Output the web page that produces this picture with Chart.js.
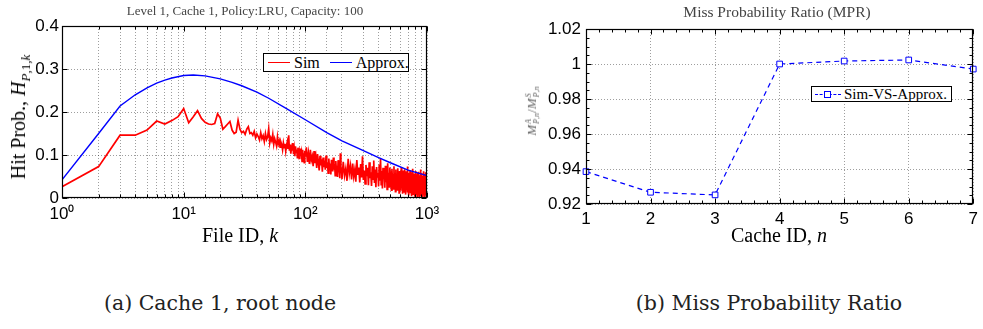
<!DOCTYPE html>
<html>
<head>
<meta charset="utf-8">
<script src="https://cdn.jsdelivr.net/npm/chart.js@4.4.1/dist/chart.umd.min.js"></script>
<style>
    html, body { margin: 0; padding: 0; background: #fff; }
    body { width: 983px; height: 329px; position: relative; overflow: hidden; font-family: 'Liberation Serif', 'DejaVu Serif', serif; color: #000; }
    canvas { position: absolute; top: 0; }
    #hitChart { left: 0; }
    #mprChart { left: 490px; }
    .txt { position: absolute; white-space: nowrap; line-height: 1; transform: translate(-50%, -50%); }
    .rot { transform: translate(-50%, -50%) rotate(-90deg); }
    .title { font-size: 13px; color: #444; }
    .axis-label { font-size: 20px; }
    .caption { font-family: 'DejaVu Serif', serif; font-size: 20.5px; color: #222; }
    .legend { position: absolute; border: 1px solid #000; background: #fff; display: flex; align-items: center; box-sizing: border-box; font-size: 16px; }
    .legend-item { display: flex; align-items: center; }
    .legend-line { display: inline-block; width: 22px; border-top: 1.4px solid; margin: 0 4px 0 4px; }
    .legend-dash { position: relative; display: inline-block; width: 26px; border-top: 1.2px dashed #0000ff; margin: 0 3px 0 3px; }
    .legend-mark { position: absolute; left: 9px; top: -4px; width: 5px; height: 5px; border: 1px solid #0000ff; background: #fff; }
    .ss { display: inline-flex; flex-direction: column; vertical-align: middle; font-size: 0.62em; line-height: 1; margin-left: 1px; }
    sub { font-size: 0.65em; }
</style>
</head>
<body>
<canvas id="hitChart" width="490" height="260"></canvas>
<canvas id="mprChart" width="493" height="260"></canvas>

<div class="txt title" style="left:245px; top:10px">Level 1, Cache 1, Policy:LRU, Capacity: 100</div>
<div class="txt rot axis-label" style="left:20px; top:117px">Hit Prob., <i>H</i><sub><i>P</i>,1,<i>k</i></sub></div>
<div class="txt axis-label" style="left:240px; top:235px">File ID, <i>k</i></div>
<div class="legend" id="hitLegend" style="left:263px; top:53px; width:146px; height:19px"></div>

<div class="txt title" style="left:777px; top:12px; font-size:15.5px">Miss Probability Ratio (MPR)</div>
<div class="txt rot" style="left:533px; top:111px; font-size:13px; color:#666"><i>M</i><span class="ss"><i>A</i><span><i>P</i>,<i>n</i></span></span>/<i>M</i><span class="ss"><i>S</i><span><i>P</i>,<i>n</i></span></span></div>
<div class="txt axis-label" style="left:779px; top:235px">Cache ID, <i>n</i></div>
<div class="legend" id="mprLegend" style="left:811px; top:86px; width:141px; height:16px; font-size:15px"></div>

<div class="txt caption" style="left:220px; top:303px">(a) Cache 1, root node</div>
<div class="txt caption" style="left:769px; top:303px">(b) Miss Probability Ratio</div>

<script>
// ---- (a) hit probability per file, Sim ----
// file IDs 1..100 step 1, 102..200 step 2, 205..1000 step 5
const simIdRanges = [[1, 100, 1], [102, 200, 2], [205, 1000, 5]];
const simHitA = [
    0.026, 0.073, 0.146, 0.146, 0.158, 0.179, 0.172, 0.180, 0.189, 0.208,
    0.175, 0.189, 0.203, 0.185, 0.176, 0.172, 0.171, 0.173, 0.196, 0.186,
    0.160, 0.166, 0.172, 0.178, 0.158, 0.150, 0.153, 0.181, 0.160, 0.152,
    0.155, 0.148, 0.160, 0.166, 0.150, 0.152, 0.146, 0.155, 0.140, 0.149,
    0.143, 0.135, 0.152, 0.138, 0.145, 0.131, 0.150, 0.136, 0.142, 0.161,
    0.128, 0.140, 0.133, 0.148, 0.125, 0.138, 0.130, 0.121, 0.142, 0.126,
    0.133, 0.118, 0.130, 0.124, 0.112, 0.128, 0.117, 0.126, 0.109, 0.122,
    0.130, 0.114, 0.146, 0.110, 0.124, 0.103, 0.118, 0.112, 0.128, 0.102,
    0.115, 0.097, 0.120, 0.106, 0.113, 0.094, 0.117, 0.101, 0.108, 0.090,
    0.115, 0.098, 0.106, 0.085, 0.112, 0.093, 0.104, 0.082, 0.110, 0.096
];
const simHitB = [
    0.118, 0.084, 0.104, 0.079, 0.112, 0.088, 0.097, 0.074, 0.109, 0.081,
    0.095, 0.070, 0.102, 0.083, 0.064, 0.098, 0.076, 0.090, 0.061, 0.094,
    0.072, 0.087, 0.066, 0.099, 0.070, 0.083, 0.058, 0.092, 0.067, 0.080,
    0.055, 0.089, 0.071, 0.062, 0.094, 0.066, 0.079, 0.052, 0.086, 0.063,
    0.075, 0.049, 0.088, 0.060, 0.072, 0.046, 0.104, 0.058, 0.070, 0.044
];
const simHitC = [
    0.084, 0.052, 0.069, 0.040, 0.091, 0.057, 0.075, 0.043, 0.080, 0.050,
    0.066, 0.038, 0.088, 0.054, 0.071, 0.036, 0.079, 0.048, 0.097, 0.042,
    0.064, 0.033, 0.077, 0.051, 0.070, 0.030, 0.083, 0.046, 0.060, 0.028,
    0.074, 0.044, 0.087, 0.035, 0.066, 0.025, 0.072, 0.049, 0.058, 0.027,
    0.078, 0.040, 0.092, 0.031, 0.063, 0.022, 0.070, 0.045, 0.056, 0.024,
    0.075, 0.037, 0.066, 0.020, 0.081, 0.042, 0.059, 0.026, 0.071, 0.033,
    0.062, 0.018, 0.068, 0.039, 0.055, 0.021, 0.074, 0.030, 0.058, 0.015,
    0.066, 0.035, 0.052, 0.019, 0.069, 0.028, 0.060, 0.012, 0.063, 0.032,
    0.050, 0.017, 0.071, 0.026, 0.057, 0.010, 0.064, 0.036, 0.048, 0.014,
    0.067, 0.024, 0.055, 0.008, 0.062, 0.030, 0.049, 0.013, 0.073, 0.021,
    0.058, 0.006, 0.052, 0.027, 0.064, 0.011, 0.047, 0.019, 0.060, 0.004,
    0.054, 0.025, 0.068, 0.009, 0.045, 0.016, 0.057, 0.003, 0.050, 0.022,
    0.063, 0.007, 0.046, 0.018, 0.055, 0.002, 0.059, 0.024, 0.043, 0.010,
    0.061, 0.014, 0.048, 0.001, 0.053, 0.020, 0.066, 0.005, 0.044, 0.015,
    0.058, 0.003, 0.051, 0.021, 0.040, 0.008, 0.062, 0.012, 0.047, 0.002,
    0.056, 0.017, 0.042, 0.006, 0.060, 0.011, 0.049, 0.001, 0.052, 0.030
];

const approxIds = [1, 2, 3, 4, 5, 6, 7, 8, 10, 12, 15, 20, 25, 30, 40, 50, 70, 100, 150, 200, 300, 400, 500, 700, 1000];
const approxHit = [0.042, 0.150, 0.214, 0.240, 0.256, 0.267, 0.274, 0.279, 0.285, 0.286, 0.284, 0.277, 0.269, 0.261, 0.246, 0.232, 0.208, 0.182, 0.152, 0.133, 0.110, 0.094, 0.082, 0.065, 0.052];

const hitTicks = [0, 0.1, 0.2, 0.3, 0.4];
const hitTickLabels = ['0', '0.1', '0.2', '0.3', '0.4'];
const decadeValues = [1, 10, 100, 1000];
const decadeLabels = ['10\u2070', '10\u00B9', '10\u00B2', '10\u00B3'];

// ---- (b) miss probability ratio ----
const cacheIds = [1, 2, 3, 4, 5, 6, 7];
const mprValues = [0.9385, 0.9267, 0.9252, 1.0000, 1.0017, 1.0023, 0.9971];
const mprTicks = [0.92, 0.94, 0.96, 0.98, 1.00, 1.02];
const mprTickLabels = ['0.92', '0.94', '0.96', '0.98', '1', '1.02'];

const tickFont = { family: "'Liberation Sans', Arial, sans-serif", size: 17 };
const gridColor = 'rgba(0, 0, 0, 0.38)';

function buildSimIds() {
    const ids = [];
    simIdRanges.forEach(([start, end, step]) => {
        for (let k = start; k <= end; k += step) ids.push(k);
    });
    return ids;
}

function isDecade(v) {
    return decadeValues.some(d => Math.abs(v - d) / d < 1e-6);
}

// MATLAB style box with inward tick marks
const matlabFrame = {
    id: 'matlabFrame',
    afterDraw(chart, args, opts) {
        const { ctx, chartArea: a } = chart;
        const L = Math.round(a.left) + 0.5, R = Math.round(a.right) - 0.5;
        const T = Math.round(a.top) + 0.5, B = Math.round(a.bottom) - 0.5;
        const marks = (scale, sub, log) => {
            const vals = scale.ticks.map(t => t.value);
            const out = [];
            vals.forEach((v, i) => {
                out.push({ p: scale.getPixelForValue(v), len: log && !isDecade(v) ? 3 : 5 });
                if (sub && i < vals.length - 1) {
                    for (let j = 1; j < sub; j++) {
                        out.push({ p: scale.getPixelForValue(v + (vals[i + 1] - v) * j / sub), len: 3 });
                    }
                }
            });
            return out;
        };
        ctx.save();
        ctx.strokeStyle = '#000';
        ctx.lineWidth = 1;
        ctx.beginPath();
        marks(chart.scales.x, opts.xSub, opts.xLog).forEach(m => {
            const x = Math.round(m.p) + 0.5;
            ctx.moveTo(x, B); ctx.lineTo(x, B - m.len);
            ctx.moveTo(x, T); ctx.lineTo(x, T + m.len);
        });
        marks(chart.scales.y, opts.ySub, false).forEach(m => {
            const y = Math.round(m.p) + 0.5;
            ctx.moveTo(L, y); ctx.lineTo(L + m.len, y);
            ctx.moveTo(R, y); ctx.lineTo(R - m.len, y);
        });
        ctx.stroke();
        ctx.lineWidth = 1.2;
        ctx.strokeRect(L, T, R - L, B - T);
        ctx.restore();
    }
};

const simIds = buildSimIds();
const simHit = [...simHitA, ...simHitB, ...simHitC];
const simSeries = { name: 'Sim', color: '#ff0000', width: 1.7, data: simIds.map((k, i) => ({ x: k, y: simHit[i] })) };
const approxSeries = { name: 'Approx.', color: '#0000ff', width: 1.4, data: approxIds.map((k, i) => ({ x: k, y: approxHit[i] })) };

new Chart(document.getElementById('hitChart'), {
    type: 'line',
    data: {
        datasets: [simSeries, approxSeries].map((s, i) => ({
            label: s.name,
            data: s.data,
            borderColor: s.color,
            borderWidth: s.width,
            pointRadius: 0,
            tension: 0,
            order: 2 - i
        }))
    },
    options: {
        responsive: false,
        animation: false,
        events: [],
        layout: { padding: { top: 26, right: 63, bottom: 0, left: 0 } },
        plugins: {
            legend: { display: false },
            tooltip: { enabled: false },
            matlabFrame: { xSub: 0, ySub: 0, xLog: true }
        },
        scales: {
            x: {
                type: 'logarithmic',
                min: 1,
                max: 1000,
                afterFit: s => { s.height = 62; },
                grid: { color: gridColor, drawTicks: false },
                border: { display: false, dash: [1, 2] },
                ticks: {
                    autoSkip: false,
                    maxRotation: 0,
                    padding: 6,
                    color: '#000',
                    font: tickFont,
                    callback: (v) => {
                        const i = decadeValues.findIndex(d => Math.abs(v - d) / d < 1e-6);
                        return i >= 0 ? decadeLabels[i] : '';
                    }
                }
            },
            y: {
                min: 0,
                max: 0.4,
                afterFit: s => { s.width = 62; },
                afterBuildTicks: s => { s.ticks = hitTicks.map(v => ({ value: v })); },
                grid: { color: gridColor, drawTicks: false },
                border: { display: false, dash: [1, 2] },
                ticks: {
                    padding: 3,
                    color: '#000',
                    font: tickFont,
                    callback: (v) => hitTickLabels[hitTicks.findIndex(t => Math.abs(t - v) < 1e-9)]
                }
            }
        }
    },
    plugins: [matlabFrame]
});

new Chart(document.getElementById('mprChart'), {
    type: 'line',
    data: {
        datasets: [{
            label: 'Sim-VS-Approx.',
            data: cacheIds.map((n, i) => ({ x: n, y: mprValues[i] })),
            borderColor: '#0000ff',
            borderWidth: 1.2,
            borderDash: [5, 4],
            pointStyle: 'rect',
            pointRadius: 4,
            pointBorderWidth: 1,
            pointBorderColor: '#0000ff',
            pointBackgroundColor: '#ffffff',
            tension: 0,
            clip: 5
        }]
    },
    options: {
        responsive: false,
        animation: false,
        events: [],
        layout: { padding: { top: 29, right: 5, bottom: 0, left: 0 } },
        plugins: {
            legend: { display: false },
            tooltip: { enabled: false },
            matlabFrame: { xSub: 5, ySub: 4, xLog: false }
        },
        scales: {
            x: {
                type: 'linear',
                min: 1,
                max: 7,
                afterFit: s => { s.height = 56; },
                afterBuildTicks: s => { s.ticks = cacheIds.map(v => ({ value: v })); },
                grid: { color: gridColor, drawTicks: false },
                border: { display: false, dash: [1, 2] },
                ticks: { padding: 5, maxRotation: 0, color: '#000', font: tickFont, callback: (v) => String(v) }
            },
            y: {
                min: 0.92,
                max: 1.02,
                afterFit: s => { s.width = 96; },
                afterBuildTicks: s => { s.ticks = mprTicks.map(v => ({ value: v })); },
                grid: { color: gridColor, drawTicks: false },
                border: { display: false, dash: [1, 2] },
                ticks: {
                    padding: 5,
                    color: '#000',
                    font: tickFont,
                    callback: (v) => mprTickLabels[mprTicks.findIndex(t => Math.abs(t - v) < 1e-9)]
                }
            }
        }
    },
    plugins: [matlabFrame]
});

// HTML legends
document.getElementById('hitLegend').innerHTML = [simSeries, approxSeries].map(s => `
    <div class="legend-item">
        <span class="legend-line" style="border-color:${s.color}"></span>
        <span style="margin-right:6px">${s.name}</span>
    </div>
`).join('');

document.getElementById('mprLegend').innerHTML = `
    <div class="legend-item">
        <span class="legend-dash"><span class="legend-mark"></span></span>
        <span>Sim-VS-Approx.</span>
    </div>
`;
</script>
</body>
</html>
